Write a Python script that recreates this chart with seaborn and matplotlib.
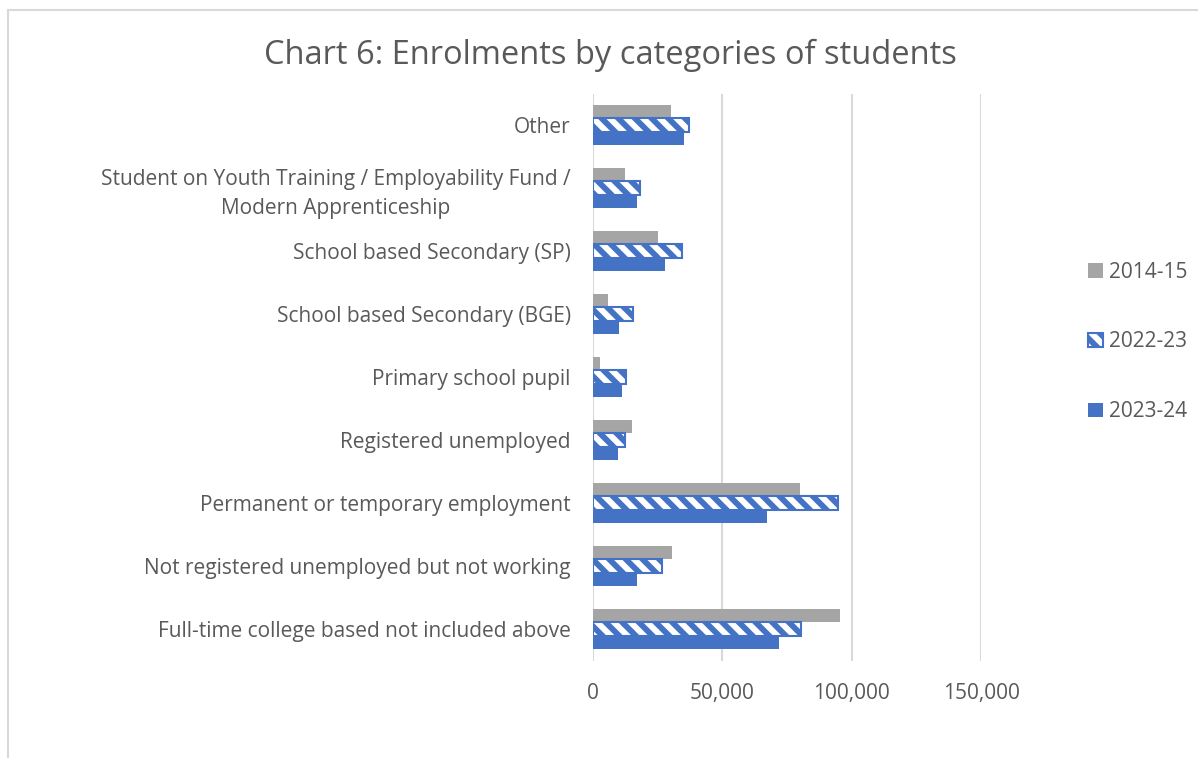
import matplotlib
matplotlib.use("Agg")
import matplotlib.pyplot as plt
import seaborn as sns
import pandas as pd
from matplotlib.patches import Patch, Rectangle
from matplotlib.ticker import FuncFormatter

categories = [
    "Other",
    "Student on Youth Training / Employability Fund /\nModern Apprenticeship",
    "School based Secondary (SP)",
    "School based Secondary (BGE)",
    "Primary school pupil",
    "Registered unemployed",
    "Permanent or temporary employment",
    "Not registered unemployed but not working",
    "Full-time college based not included above",
]
years = ["2014-15", "2022-23", "2023-24"]
v2014 = [30000, 12200, 25000, 5900, 2600, 14900, 80100, 30500, 95400]
v2022 = [37300, 18300, 34300, 15300, 12700, 12500, 94700, 26800, 80400]
v2023 = [35000, 17200, 27900, 9900, 11400, 9500, 67300, 17100, 72100]
x_ticks = [0, 50000, 100000, 150000]

GREY = "#A5A5A5"
BLUE = "#4472C4"
TXT = "#595959"
GRID = "#D9D9D9"

df = pd.DataFrame({
    "category": categories * 3,
    "year": [years[0]] * 9 + [years[1]] * 9 + [years[2]] * 9,
    "value": v2014 + v2022 + v2023,
})

sns.set_theme(style="white")
plt.rcParams["font.family"] = ["Open Sans", "DejaVu Sans"]
plt.rcParams["hatch.linewidth"] = 4.2

fig = plt.figure(figsize=(11.98, 7.58), dpi=100)
ax = fig.add_axes([593 / 1198, 1 - 660.5 / 758, 388 / 1198, 567 / 758])

sns.barplot(data=df, y="category", x="value", hue="year", order=categories,
            hue_order=years, palette=[GREY, BLUE, BLUE], orient="h",
            width=0.62, saturation=1, dodge=True, legend=False, ax=ax,
            errorbar=None)

for p in ax.containers[0]:
    p.set_edgecolor("none")
for p in ax.containers[2]:
    p.set_edgecolor("none")
for p in ax.containers[1]:
    p.set_facecolor("white")
    p.set_edgecolor(BLUE)
    p.set_linewidth(1.5)
    p.set_hatch("\\\\")

ax.set_xlim(0, 150000)
ax.set_xticks(x_ticks)
ax.xaxis.set_major_formatter(FuncFormatter(lambda v, _: f"{int(v):,}"))
ax.grid(axis="x", color=GRID, linewidth=1.5)
ax.grid(axis="y", visible=False)
ax.set_axisbelow(True)
for s in ax.spines.values():
    s.set_visible(False)
ax.tick_params(axis="both", length=0, labelsize=15, colors=TXT)
ax.tick_params(axis="y", pad=16)
ax.tick_params(axis="x", pad=16)
ax.set_xlabel("")
ax.set_ylabel("")
for lab in ax.get_yticklabels():
    lab.set_horizontalalignment("right")
    lab.set_multialignment("center")
    lab.set_linespacing(1.45)

fig.text(610 / 1198, 1 - 55 / 758, "Chart 6: Enrolments by categories of students",
         ha="center", va="center", fontsize=23.5, color=TXT)

handles = [
    Patch(facecolor=GREY, edgecolor="none", label=years[0]),
    Patch(facecolor="white", edgecolor=BLUE, hatch="\\\\", linewidth=1.5, label=years[1]),
    Patch(facecolor=BLUE, edgecolor="none", label=years[2]),
]
fig.legend(handles=handles, loc="center left",
           bbox_to_anchor=(1080 / 1198, 1 - 342 / 758), frameon=False,
           fontsize=15, labelcolor=TXT, labelspacing=2.35, handlelength=0.7,
           handleheight=0.7, handletextpad=0.3, borderaxespad=0)

fig.patches.append(Rectangle((8 / 1198, -0.1), 1.2, 1.1 - 10 / 758,
                             transform=fig.transFigure, fill=False,
                             edgecolor=GRID, linewidth=1.5, figure=fig))

fig.savefig("out.png", dpi=100)
